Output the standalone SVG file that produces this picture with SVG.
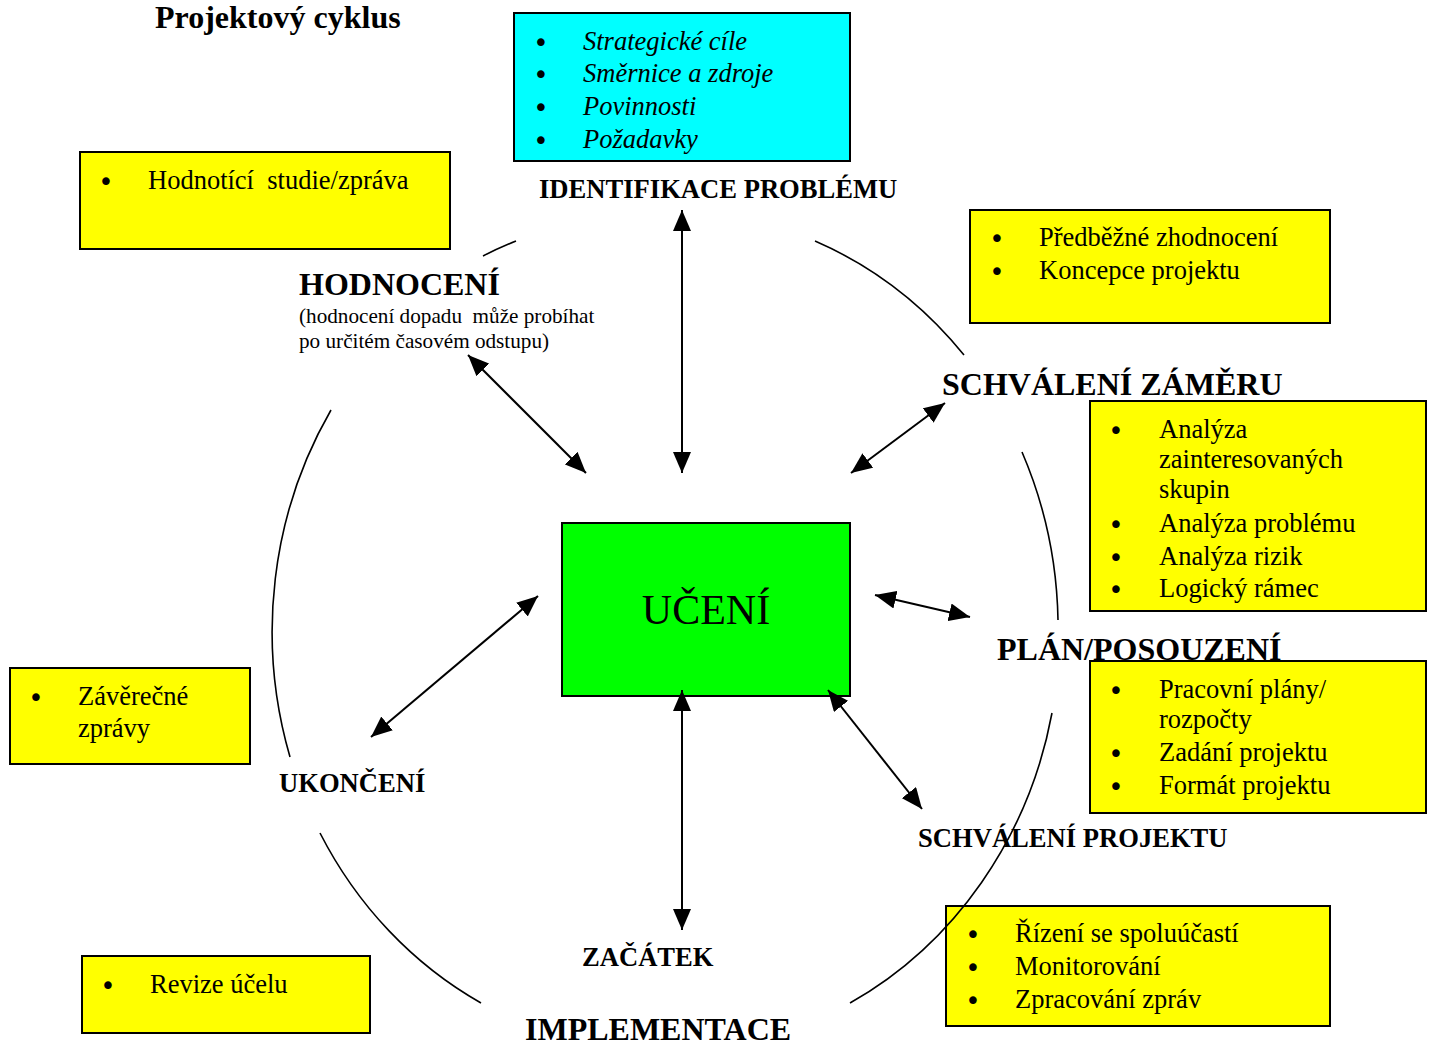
<svg xmlns="http://www.w3.org/2000/svg" width="1430" height="1045" viewBox="0 0 1430 1045">
<style>
text{font-family:"Liberation Serif","Times New Roman",serif;fill:#000}
.b{font-size:26.5px}
.i{font-size:26.5px;font-style:italic}
text.bl{font-family:"DejaVu Sans",sans-serif;font-size:26px}
.lbl{font-weight:bold;font-size:26.6px}
.big{font-weight:bold;font-size:32px}
.sub{font-size:21.2px}
.box{stroke:#000;stroke-width:2}
.y{fill:#ffff00}
.c{fill:#00ffff}
.g{fill:#00ff00}
.arc{fill:none;stroke:#000;stroke-width:1.6}
.arr{stroke:#000;stroke-width:2;fill:none;marker-start:url(#ah);marker-end:url(#ah)}
</style>
<defs>
<marker id="ah" markerUnits="userSpaceOnUse" markerWidth="22" markerHeight="18" refX="21" refY="9" orient="auto-start-reverse">
<path d="M0,0 L21,9 L0,18 z" fill="#000"/>
</marker>
</defs>
<rect width="1430" height="1045" fill="#fff"/>

<text class="big" x="155" y="28" font-size="30">Projektový cyklus</text>

<g id="identifikace">
<rect class="box c" x="514" y="13" width="336" height="148"/>
<text class="bl" x="541" y="52" text-anchor="middle">•</text>
<text class="bl" x="541" y="84" text-anchor="middle">•</text>
<text class="bl" x="541" y="117" text-anchor="middle">•</text>
<text class="bl" x="541" y="150" text-anchor="middle">•</text>
<text class="i" x="583" y="50">Strategické cíle</text>
<text class="i" x="583" y="82">Směrnice a zdroje</text>
<text class="i" x="583" y="115">Povinnosti</text>
<text class="i" x="583" y="148">Požadavky</text>
<text class="lbl" x="539" y="198">IDENTIFIKACE PROBLÉMU</text>
</g>

<g id="hodnoceni">
<rect class="box y" x="80" y="152" width="370" height="97"/>
<text class="bl" x="106" y="191" text-anchor="middle">•</text>
<text class="b" x="148" y="189" xml:space="preserve">Hodnotící  studie/zpráva</text>
<text class="big" x="299" y="295">HODNOCENÍ</text>
<text class="sub" x="299" y="323" xml:space="preserve">(hodnocení dopadu  může probíhat</text>
<text class="sub" x="299" y="348">po určitém časovém odstupu)</text>
</g>

<g id="schvaleni-zameru">
<rect class="box y" x="970" y="210" width="360" height="113"/>
<text class="bl" x="997" y="248" text-anchor="middle">•</text>
<text class="bl" x="997" y="281" text-anchor="middle">•</text>
<text class="b" x="1039" y="246">Předběžné zhodnocení</text>
<text class="b" x="1039" y="279">Koncepce projektu</text>
<text class="big" x="942" y="395">SCHVÁLENÍ ZÁMĚRU</text>
</g>

<g id="analyzy">
<rect class="box y" x="1090" y="401" width="336" height="210"/>
<text class="bl" x="1116" y="440" text-anchor="middle">•</text>
<text class="bl" x="1116" y="534" text-anchor="middle">•</text>
<text class="bl" x="1116" y="567" text-anchor="middle">•</text>
<text class="bl" x="1116" y="599" text-anchor="middle">•</text>
<text class="b" x="1159" y="438">Analýza</text>
<text class="b" x="1159" y="468">zainteresovaných</text>
<text class="b" x="1159" y="498">skupin</text>
<text class="b" x="1159" y="532">Analýza problému</text>
<text class="b" x="1159" y="565">Analýza rizik</text>
<text class="b" x="1159" y="597">Logický rámec</text>
</g>

<g id="plan">
<text class="big" x="997" y="660">PLÁN/POSOUZENÍ</text>
<rect class="box y" x="1090" y="661" width="336" height="152"/>
<text class="bl" x="1116" y="700" text-anchor="middle">•</text>
<text class="bl" x="1116" y="763" text-anchor="middle">•</text>
<text class="bl" x="1116" y="796" text-anchor="middle">•</text>
<text class="b" x="1159" y="698">Pracovní plány/</text>
<text class="b" x="1159" y="728">rozpočty</text>
<text class="b" x="1159" y="761">Zadání projektu</text>
<text class="b" x="1159" y="794">Formát projektu</text>
</g>

<g id="schvaleni-projektu">
<text class="lbl" x="918" y="847">SCHVÁLENÍ PROJEKTU</text>
</g>

<g id="implementace">
<rect class="box y" x="946" y="906" width="384" height="120"/>
<text class="bl" x="973" y="944" text-anchor="middle">•</text>
<text class="bl" x="973" y="977" text-anchor="middle">•</text>
<text class="bl" x="973" y="1010" text-anchor="middle">•</text>
<text class="b" x="1015" y="942">Řízení se spoluúčastí</text>
<text class="b" x="1015" y="975">Monitorování</text>
<text class="b" x="1015" y="1008">Zpracování zpráv</text>
<text class="big" x="525" y="1040">IMPLEMENTACE</text>
</g>

<g id="zacatek">
<text class="lbl" x="582" y="966">ZAČÁTEK</text>
<rect class="box y" x="82" y="956" width="288" height="77"/>
<text class="bl" x="108" y="995" text-anchor="middle">•</text>
<text class="b" x="150" y="993">Revize účelu</text>
</g>

<g id="ukonceni">
<rect class="box y" x="10" y="668" width="240" height="96"/>
<text class="bl" x="36" y="707" text-anchor="middle">•</text>
<text class="b" x="78" y="705">Závěrečné</text>
<text class="b" x="78" y="737">zprávy</text>
<text class="lbl" x="279" y="792">UKONČENÍ</text>
</g>

<g id="uceni">
<rect class="box g" x="562" y="523" width="288" height="173"/>
<text x="706" y="624" font-size="42" text-anchor="middle">UČENÍ</text>
</g>

<g id="connectors">
<path class="arc" d="M483,256 A393,421 0 0 1 516,241"/>
<path class="arc" d="M815,241 A393,421 0 0 1 964,355"/>
<path class="arc" d="M1022,452 A393,421 0 0 1 1058,620"/>
<path class="arc" d="M1052,713 A393,421 0 0 1 850,1003"/>
<path class="arc" d="M481,1003 A393,421 0 0 1 320,833"/>
<path class="arc" d="M290,757 A393,421 0 0 1 331,410"/>
<line class="arr" x1="468" y1="355" x2="586" y2="473"/>
<line class="arr" x1="682" y1="210" x2="682" y2="473"/>
<line class="arr" x1="945" y1="403" x2="851" y2="473"/>
<line class="arr" x1="875" y1="595" x2="970" y2="617"/>
<line class="arr" x1="828" y1="690" x2="922" y2="809"/>
<line class="arr" x1="682" y1="690" x2="682" y2="930"/>
<line class="arr" x1="538" y1="596" x2="371" y2="737"/>
</g>
</svg>
